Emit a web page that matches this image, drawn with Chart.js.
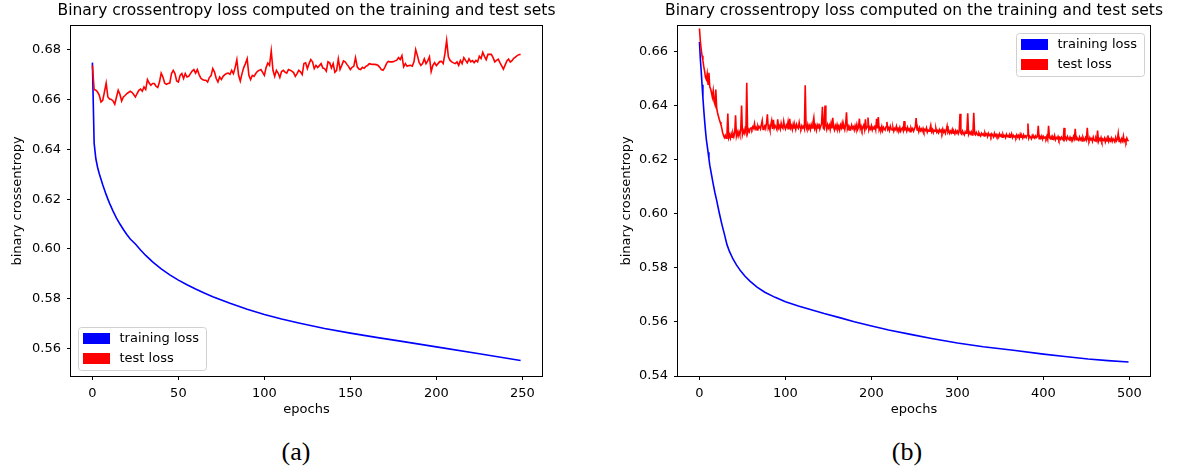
<!DOCTYPE html>
<html><head><meta charset="utf-8">
<script src="https://cdn.jsdelivr.net/npm/chart.js@4.4.1/dist/chart.umd.min.js"></script>
<style>
html,body{margin:0;padding:0;background:#fff;width:1189px;height:470px;overflow:hidden;position:relative}
canvas{position:absolute;top:0}
#ca{left:0}
#cb{left:604px}
.cap{position:absolute;font-family:"Liberation Serif",serif;font-size:26px;color:#000;top:437px;width:60px;text-align:center;line-height:30px}
</style></head><body>
<canvas id="ca" width="613" height="430"></canvas>
<canvas id="cb" width="620" height="430"></canvas>
<div class="cap" style="left:266px">(a)</div>
<div class="cap" style="left:877px">(b)</div>
<script>
const chartTitle = 'Binary crossentropy loss computed on the training and test sets';
const seriesNames = ['training loss', 'test loss'];
const xLabel = 'epochs';
const yLabel = 'binary crossentropy';

// ---- chart (a): 250 epochs ----
const xTicksA = [0, 50, 100, 150, 200, 250];
const yTicksA = [0.56, 0.58, 0.60, 0.62, 0.64, 0.66, 0.68];
const trainEpochsA = [0,1,2,3,4,5,6,7,8,9,10,12,14,16,18,20,22,25,28,31,35,40,45,50,55,60,65,70,75,80,90,100,110,120,135,150,165,180,200,225,249];
const trainLossA = [0.6748,0.6425,0.6362,0.6328,0.6302,0.6280,0.6258,0.6238,0.6218,0.6200,0.6183,0.6152,0.6124,0.6100,0.6078,0.6058,0.6040,0.6020,0.5996,0.5974,0.5948,0.5920,0.5896,0.5875,0.5856,0.5839,0.5823,0.5808,0.5795,0.5782,0.5758,0.5737,0.5719,0.5703,0.5681,0.5662,0.5645,0.5629,0.5607,0.5579,0.5552];
const testLossA = [
0.6737,0.6640,0.6637,0.6630,0.6617,0.6590,0.6597,0.6630,0.6666,0.6610,
0.6602,0.6600,0.6594,0.6581,0.6610,0.6637,0.6621,0.6594,0.6610,0.6616,
0.6624,0.6628,0.6633,0.6629,0.6620,0.6610,0.6624,0.6637,0.6642,0.6633,
0.6650,0.6640,0.6680,0.6666,0.6657,0.6664,0.6664,0.6653,0.6648,0.6670,
0.6706,0.6690,0.6666,0.6661,0.6664,0.6666,0.6704,0.6717,0.6704,0.6674,
0.6670,0.6697,0.6704,0.6684,0.6704,0.6690,0.6693,0.6704,0.6714,0.6720,
0.6706,0.6720,0.6701,0.6686,0.6680,0.6677,0.6677,0.6670,0.6688,0.6696,
0.6724,0.6710,0.6684,0.6670,0.6690,0.6680,0.6693,0.6700,0.6704,0.6706,
0.6701,0.6717,0.6704,0.6728,0.6760,0.6697,0.6674,0.6704,0.6728,0.6744,
0.6764,0.6697,0.6680,0.6697,0.6693,0.6704,0.6713,0.6717,0.6720,0.6709,
0.6697,0.6728,0.6746,0.6737,0.6795,0.6717,0.6693,0.6717,0.6706,0.6688,
0.6712,0.6717,0.6710,0.6706,0.6720,0.6717,0.6714,0.6708,0.6693,0.6704,
0.6717,0.6711,0.6700,0.6744,0.6747,0.6724,0.6744,0.6760,0.6751,0.6724,
0.6737,0.6728,0.6736,0.6744,0.6726,0.6724,0.6714,0.6751,0.6747,0.6727,
0.6744,0.6709,0.6717,0.6763,0.6721,0.6737,0.6755,0.6751,0.6741,0.6732,
0.6720,0.6729,0.6733,0.6768,0.6731,0.6722,0.6720,0.6729,0.6725,0.6733,
0.6736,0.6744,0.6742,0.6741,0.6741,0.6740,0.6738,0.6730,0.6720,0.6717,
0.6728,0.6744,0.6753,0.6751,0.6751,0.6752,0.6755,0.6758,0.6768,0.6760,
0.6776,0.6731,0.6744,0.6733,0.6736,0.6737,0.6734,0.6751,0.6800,0.6776,
0.6749,0.6737,0.6744,0.6763,0.6744,0.6755,0.6771,0.6712,0.6737,0.6748,
0.6736,0.6744,0.6752,0.6753,0.6744,0.6784,0.6837,0.6771,0.6757,0.6751,
0.6747,0.6744,0.6751,0.6737,0.6757,0.6744,0.6768,0.6757,0.6747,0.6763,
0.6751,0.6756,0.6748,0.6757,0.6751,0.6774,0.6765,0.6789,0.6773,0.6760,
0.6781,0.6781,0.6781,0.6768,0.6751,0.6757,0.6762,0.6748,0.6735,0.6722,
0.6738,0.6755,0.6762,0.6750,0.6756,0.6765,0.6770,0.6776,0.6780,0.6781];

// ---- chart (b): 500 epochs ----
const xTicksB = [0, 100, 200, 300, 400, 500];
const yTicksB = [0.54, 0.56, 0.58, 0.60, 0.62, 0.64, 0.66];
const trainEpochsB = [0,1,2,3,4,5,6,7,8,9,10,11,12,14,16,18,20,23,26,29,32,35,39,43,48,53,59,67,76,88,100,115,130,145,164,180,199,220,247,270,300,330,365,400,425,452,475,499];
const trainLossB = [0.6636,0.6575,0.6530,0.6478,0.6430,0.6385,0.6345,0.6308,0.6275,0.6252,0.6228,0.6204,0.6180,0.6145,0.6110,0.6078,0.6050,0.6004,0.5962,0.5925,0.5886,0.5860,0.5833,0.5811,0.5788,0.5769,0.5750,0.5729,0.5710,0.5691,0.5675,0.5659,0.5645,0.5631,0.5615,0.5601,0.5586,0.5570,0.5553,0.5539,0.5522,0.5508,0.5495,0.5481,0.5472,0.5463,0.5457,0.5452];
const testLossB = [
0.6686,0.6640,0.6610,0.6585,0.6568,0.6545,0.6528,0.6505,0.6497,0.6518,
0.6480,0.6522,0.6470,0.6462,0.6448,0.6432,0.6455,0.6415,0.6405,0.6460,
0.6393,0.6374,0.6362,0.6350,0.6340,0.6330,0.6316,0.6300,0.6290,0.6282,
0.6290,0.6280,0.6294,0.6371,0.6282,0.6292,0.6280,0.6296,0.6284,0.6298,
0.6286,0.6300,0.6365,0.6288,0.6302,0.6288,0.6304,0.6292,0.6310,0.6401,
0.6294,0.6308,0.6298,0.6314,0.6302,0.6485,0.6300,0.6312,0.6304,0.6316,
0.6318,0.6312,0.6322,0.6316,0.6334,0.6314,0.6320,0.6310,0.6326,0.6318,
0.6322,0.6314,0.6330,0.6345,0.6312,0.6320,0.6326,0.6316,0.6336,0.6368,
0.6316,0.6324,0.6310,0.6330,0.6345,0.6314,0.6348,0.6318,0.6326,0.6320,
0.6312,0.6350,0.6318,0.6326,0.6314,0.6335,0.6320,0.6316,0.6342,0.6322,
0.6314,0.6328,0.6320,0.6340,0.6312,0.6352,0.6318,0.6326,0.6312,0.6332,
0.6318,0.6326,0.6312,0.6330,0.6320,0.6316,0.6338,0.6320,0.6314,0.6326,
0.6318,0.6324,0.6314,0.6476,0.6320,0.6312,0.6330,0.6316,0.6326,0.6312,
0.6330,0.6318,0.6338,0.6356,0.6316,0.6326,0.6310,0.6328,0.6318,0.6334,
0.6314,0.6324,0.6332,0.6396,0.6318,0.6314,0.6401,0.6326,0.6312,0.6330,
0.6318,0.6328,0.6312,0.6334,0.6316,0.6355,0.6320,0.6310,0.6326,0.6316,
0.6330,0.6314,0.6324,0.6310,0.6328,0.6318,0.6336,0.6316,0.6326,0.6312,
0.6330,0.6376,0.6314,0.6324,0.6310,0.6320,0.6314,0.6328,0.6316,0.6322,
0.6310,0.6326,0.6314,0.6330,0.6312,0.6320,0.6352,0.6314,0.6324,0.6310,
0.6320,0.6328,0.6312,0.6350,0.6316,0.6322,0.6356,0.6310,0.6320,0.6314,
0.6326,0.6310,0.6320,0.6314,0.6328,0.6312,0.6352,0.6316,0.6358,0.6310,
0.6318,0.6312,0.6324,0.6308,0.6320,0.6314,0.6310,0.6322,0.6340,0.6312,
0.6318,0.6308,0.6324,0.6314,0.6310,0.6320,0.6306,0.6316,0.6312,0.6324,
0.6308,0.6316,0.6310,0.6320,0.6306,0.6314,0.6318,0.6308,0.6343,0.6312,
0.6316,0.6306,0.6320,0.6310,0.6314,0.6304,0.6318,0.6310,0.6316,0.6306,
0.6314,0.6322,0.6354,0.6310,0.6316,0.6304,0.6318,0.6308,0.6314,0.6306,
0.6316,0.6304,0.6312,0.6308,0.6318,0.6302,0.6310,0.6306,0.6314,0.6328,
0.6304,0.6312,0.6300,0.6310,0.6306,0.6316,0.6302,0.6308,0.6300,0.6312,
0.6304,0.6310,0.6300,0.6314,0.6302,0.6308,0.6298,0.6310,0.6325,0.6302,
0.6308,0.6298,0.6306,0.6300,0.6312,0.6298,0.6304,0.6296,0.6308,0.6300,
0.6306,0.6296,0.6304,0.6370,0.6298,0.6294,0.6306,0.6298,0.6292,0.6304,
0.6298,0.6308,0.6372,0.6294,0.6302,0.6296,0.6304,0.6292,0.6300,0.6374,
0.6296,0.6292,0.6302,0.6296,0.6290,0.6300,0.6294,0.6288,0.6298,0.6292,
0.6296,0.6288,0.6300,0.6292,0.6296,0.6286,0.6298,0.6290,0.6294,0.6286,
0.6296,0.6290,0.6284,0.6298,0.6288,0.6294,0.6286,0.6292,0.6284,0.6296,
0.6288,0.6292,0.6284,0.6294,0.6286,0.6290,0.6282,0.6294,0.6286,0.6290,
0.6284,0.6292,0.6286,0.6296,0.6282,0.6290,0.6284,0.6288,0.6282,0.6292,
0.6284,0.6290,0.6280,0.6294,0.6284,0.6288,0.6280,0.6292,0.6284,0.6288,
0.6282,0.6290,0.6334,0.6280,0.6288,0.6284,0.6278,0.6290,0.6282,0.6286,
0.6280,0.6288,0.6282,0.6286,0.6326,0.6278,0.6286,0.6280,0.6288,0.6276,
0.6286,0.6280,0.6284,0.6278,0.6288,0.6276,0.6326,0.6282,0.6278,0.6286,
0.6276,0.6284,0.6278,0.6290,0.6274,0.6282,0.6278,0.6286,0.6274,0.6282,
0.6276,0.6284,0.6278,0.6274,0.6318,0.6276,0.6282,0.6274,0.6286,0.6278,
0.6274,0.6284,0.6276,0.6280,0.6272,0.6286,0.6278,0.6315,0.6274,0.6282,
0.6276,0.6272,0.6284,0.6274,0.6280,0.6270,0.6284,0.6276,0.6272,0.6282,
0.6274,0.6318,0.6276,0.6270,0.6282,0.6274,0.6278,0.6268,0.6284,0.6274,
0.6270,0.6280,0.6272,0.6308,0.6268,0.6278,0.6272,0.6282,0.6268,0.6276,
0.6272,0.6280,0.6266,0.6278,0.6270,0.6290,0.6268,0.6276,0.6270,0.6280,
0.6268,0.6278,0.6272,0.6266,0.6282,0.6270,0.6276,0.6298,0.6268,0.6274,
0.6266,0.6278,0.6270,0.6288,0.6268,0.6274,0.6266,0.6280,0.6272,0.6269];

const FONT = '"DejaVu Sans", sans-serif';
const TXT = '#000';

const framePlugin = {
  id: 'frame',
  afterDatasetsDraw(chart) {
    const {ctx, chartArea: a} = chart;
    ctx.save();
    ctx.strokeStyle = '#000';
    ctx.lineWidth = 1;
    ctx.strokeRect(a.left - 0.5, a.top - 0.5, a.right - a.left + 1, a.bottom - a.top + 1);
    ctx.restore();
  }
};

const titlePlugin = {
  id: 'mplTitle',
  afterDraw(chart, args, opts) {
    const {ctx, chartArea: a} = chart;
    ctx.save();
    ctx.fillStyle = TXT;
    ctx.font = '15.5px ' + FONT;
    ctx.textAlign = 'center';
    ctx.textBaseline = 'middle';
    ctx.fillText(opts.text, (a.left + a.right) / 2, 10.5);
    ctx.restore();
  }
};

const legendPlugin = {
  id: 'mplLegend',
  afterDraw(chart, args, opts) {
    const {ctx, chartArea: a} = chart;
    const w = 128, h = 43;
    const x = opts.corner === 'lowerLeft' ? a.left + 6.5 : a.right - 6.5 - w;
    const y = opts.corner === 'lowerLeft' ? a.bottom - 6.5 - h : a.top + 6.5;
    ctx.save();
    ctx.beginPath();
    if (ctx.roundRect) ctx.roundRect(Math.round(x) + 0.5, Math.round(y) + 0.5, w, h, 3);
    else ctx.rect(Math.round(x) + 0.5, Math.round(y) + 0.5, w, h);
    ctx.fillStyle = 'rgba(255,255,255,0.8)';
    ctx.fill();
    ctx.strokeStyle = '#d0d0d0';
    ctx.lineWidth = 1;
    ctx.stroke();
    chart.data.datasets.forEach((ds, i) => {
      const py = Math.round(y) + 6 + i * 20;
      ctx.fillStyle = ds.borderColor;
      ctx.fillRect(Math.round(x) + 5, py, 27, 11);
      ctx.fillStyle = TXT;
      ctx.font = '13px ' + FONT;
      ctx.textBaseline = 'middle';
      ctx.textAlign = 'left';
      ctx.fillText(ds.label, Math.round(x) + 41.5, py + 5.5);
    });
    ctx.restore();
  }
};

function build(id, cfg) {
  const tickFont = {family: FONT, size: 13};
  return new Chart(document.getElementById(id), {
    type: 'line',
    data: {
      datasets: [
        {label: seriesNames[0], data: cfg.trainE.map((e, i) => ({x: e, y: cfg.train[i]})),
         borderColor: '#0000ff', backgroundColor: '#0000ff', borderWidth: 1.6, pointRadius: 0, tension: 0, order: 2},
        {label: seriesNames[1], data: cfg.test.map((v, i) => ({x: i, y: v})),
         borderColor: '#ff0000', backgroundColor: '#ff0000', borderWidth: 1.6, pointRadius: 0, tension: 0, order: 1}
      ]
    },
    options: {
      responsive: false, animation: false, devicePixelRatio: 1,
      events: [],
      layout: {padding: {left: 0, right: cfg.padR, top: 26, bottom: 0}},
      plugins: {
        legend: {display: false},
        tooltip: {enabled: false},
        title: {display: false},
        mplTitle: {text: chartTitle},
        mplLegend: {corner: cfg.corner}
      },
      scales: {
        x: {
          type: 'linear', min: cfg.xMin, max: cfg.xMax,
          afterBuildTicks: s => { s.ticks = cfg.xTicks.map(v => ({value: v})); },
          afterFit: s => { s.height = 54; },
          ticks: {font: tickFont, color: TXT, padding: 5.5, autoSkip: false, maxRotation: 0, callback: v => String(v)},
          grid: {drawOnChartArea: false, drawTicks: true, tickLength: 4, color: '#000', lineWidth: 1},
          border: {display: false},
          title: {display: true, text: xLabel, color: TXT, font: tickFont, padding: {top: 0, bottom: 12.2}}
        },
        y: {
          type: 'linear', min: cfg.yMin, max: cfg.yMax,
          afterBuildTicks: s => { s.ticks = cfg.yTicks.map(v => ({value: v})); },
          afterFit: s => { s.width = cfg.yW; },
          ticks: {font: tickFont, color: TXT, padding: 6, autoSkip: false, callback: v => v.toFixed(2)},
          grid: {drawOnChartArea: false, drawTicks: true, tickLength: 4, color: '#000', lineWidth: 1},
          border: {display: false},
          title: {display: true, text: yLabel, color: TXT, font: tickFont, padding: {top: cfg.yTitlePad, bottom: 0}}
        }
      }
    },
    plugins: [framePlugin, titlePlugin, legendPlugin]
  });
}

build('ca', {trainE: trainEpochsA, train: trainLossA, test: testLossA, xTicks: xTicksA, yTicks: yTicksA,
  xMin: -12.45, xMax: 261.45, yMin: 0.549, yMax: 0.6895, padR: 71, yW: 71, yTitlePad: 10, corner: 'lowerLeft'});
build('cb', {trainE: trainEpochsB, train: trainLossB, test: testLossB, xTicks: xTicksB, yTicks: yTicksB,
  xMin: -24.95, xMax: 523.95, yMin: 0.54, yMax: 0.6695, padR: 74, yW: 74, yTitlePad: 14.5, corner: 'upperRight'});
</script>
</body></html>
